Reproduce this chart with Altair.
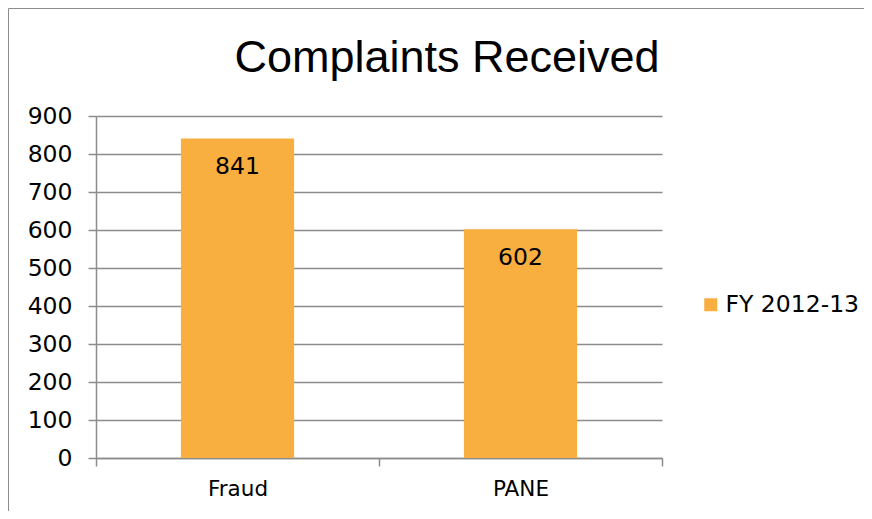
import altair as alt
import pandas as pd

categories = ["Fraud", "PANE"]
values = [841, 602]
series = ["FY 2012-13", "FY 2012-13"]
y_ticks = [0, 100, 200, 300, 400, 500, 600, 700, 800, 900]
chart_title = "Complaints Received"

df = pd.DataFrame({"category": categories, "value": values, "series": series})
single_df = pd.DataFrame({"t": [chart_title]})

TFONT = "Liberation Sans"
FONT = "DejaVu Sans"
GRAY = "#8c8c8c"
ORANGE = "#F9AE40"

x_enc = alt.X(
    "category:N",
    sort=categories,
    scale=alt.Scale(paddingInner=0, paddingOuter=0),
    axis=alt.Axis(
        title=None, labelAngle=0, tickBand="extent", tickSize=8,
        tickColor=GRAY, domainColor=GRAY, tickWidth=1.5, domainWidth=1.5,
        labelPadding=12, labelFontSize=21.5, labelFont=FONT, labelColor="#000000",
        grid=False,
    ),
)
y_enc = alt.Y(
    "value:Q",
    scale=alt.Scale(domain=[0, 900], nice=False),
    axis=alt.Axis(
        title=None, values=y_ticks, tickSize=8, tickColor=GRAY, domainColor=GRAY,
        tickWidth=1.5, domainWidth=1.5, gridColor=GRAY, gridWidth=1.5, grid=True,
        labelPadding=16, labelFontSize=23.5, labelFont=FONT, labelColor="#000000",
        labelOverlap=False, labelFlush=False,
    ),
)

bars = alt.Chart(df).mark_bar(width=alt.RelativeBandSize(0.4)).encode(
    x=x_enc,
    y=y_enc,
    color=alt.Color(
        "series:N",
        scale=alt.Scale(domain=["FY 2012-13"], range=[ORANGE]),
        legend=alt.Legend(
            title=None, orient="none", legendX=603, legendY=177, padding=0,
            symbolType="square", symbolSize=169, symbolStrokeWidth=0,
            labelFontSize=23.5, labelFont=FONT, labelColor="#000000", labelOffset=3,
        ),
    ),
)

labels = alt.Chart(df).mark_text(
    baseline="alphabetic", align="center", dy=36, fontSize=23.5, font=FONT, color="#000000"
).encode(
    x=x_enc,
    y=y_enc,
    text=alt.Text("value:Q"),
)

border = alt.Chart(single_df).mark_rect(
    fill="transparent", stroke=GRAY, strokeWidth=1
).encode(
    x=alt.value(-87.5), x2=alt.value(800), y=alt.value(-107.5), y2=alt.value(500)
)

title = alt.Chart(single_df).mark_text(
    baseline="alphabetic", align="center", fontSize=45, font=TFONT, color="#000000"
).encode(
    x=alt.value(351), y=alt.value(-44), text="t:N"
)

chart = alt.layer(border, bars, labels, title).properties(
    width=566,
    height=342,
    padding={"left": 88, "top": 108, "right": 202, "bottom": 53},
    autosize=alt.AutoSizeParams(type="none"),
).configure_view(strokeWidth=0)

chart.save("out.html", embed_options={"renderer": "svg", "actions": False})
